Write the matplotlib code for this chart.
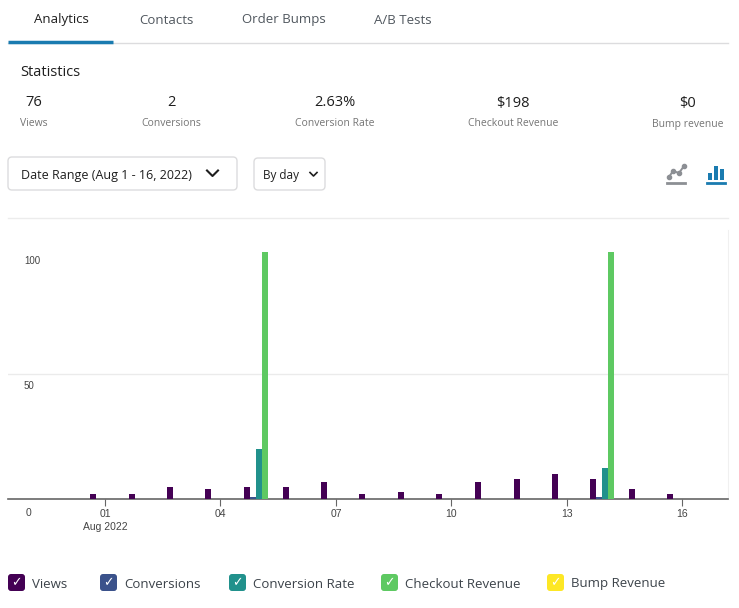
import numpy as np
import matplotlib.pyplot as plt
from matplotlib.patches import FancyBboxPatch, Rectangle
from matplotlib import transforms

# data (Aug 1 - 16, 2022)
days = list(range(1, 17))
views = [2, 2, 5, 4, 5, 5, 7, 2, 3, 2, 7, 8, 10, 8, 4, 2]
conversions = [0, 0, 0, 0, 1, 0, 0, 0, 0, 0, 0, 0, 0, 1, 0, 0]
conversion_rate = [0, 0, 0, 0, 20, 0, 0, 0, 0, 0, 0, 0, 0, 12.5, 0, 0]
checkout_revenue = [0, 0, 0, 0, 99, 0, 0, 0, 0, 0, 0, 0, 0, 99, 0, 0]
bump_revenue = [0] * 16

series_names = ["Views", "Conversions", "Conversion Rate", "Checkout Revenue", "Bump Revenue"]
series_colors = ["#440154", "#3b528b", "#21918c", "#5ec962", "#fde725"]

tabs = ["Analytics", "Contacts", "Order Bumps", "A/B Tests"]
stat_values = ["76", "2", "2.63%", "$198", "$0"]
stat_labels = ["Views", "Conversions", "Conversion Rate", "Checkout Revenue", "Bump revenue"]

x_ticks = [1, 4, 7, 10, 13, 16]
x_tick_labels = ["01\nAug 2022", "04", "07", "10", "13", "16"]

UI_FONT = ["Open Sans", "DejaVu Sans"]
CHART_FONT = ["Liberation Sans", "DejaVu Sans"]

W, H = 739, 608
fig = plt.figure(figsize=(W / 100, H / 100), dpi=100)
fig.patch.set_facecolor("white")

# overlay axes in pixel coordinates for the dashboard chrome
ui = fig.add_axes([0, 0, 1, 1])
ui.set_xlim(0, W)
ui.set_ylim(H, 0)
ui.axis("off")

# tabs
tab_x = [61, 166, 284, 403]
for i, (name, tx) in enumerate(zip(tabs, tab_x)):
    ui.text(tx, 20, name, ha="center", va="center", fontsize=9.5, family=UI_FONT,
            color="#1e1e1e" if i == 0 else "#50575e")
ui.plot([8, 728], [43, 43], color="#dcdcde", lw=1)
ui.plot([8, 113], [42, 42], color="#1a7bb0", lw=2.5, solid_capstyle="butt")

# statistics block
ui.text(20, 73, "Statistics", ha="left", va="center", fontsize=10.5, family=UI_FONT, color="#1e1e1e")
stat_x = [34, 171, 335, 513, 688]
for val, lab, sx in zip(stat_values, stat_labels, stat_x):
    ui.text(sx, 103, val, ha="center", va="center", fontsize=10.5, family=UI_FONT, color="#1e1e1e")
    ui.text(sx, 124, lab, ha="center", va="center", fontsize=7.5, family=UI_FONT, color="#757575")

# dropdowns
ui.add_patch(FancyBboxPatch((8, 157), 229, 33, boxstyle="round,pad=0,rounding_size=4",
                            facecolor="white", edgecolor="#dcdcde", lw=1))
ui.text(21, 175, "Date Range (Aug 1 - 16, 2022)", ha="left", va="center", fontsize=9,
        family=UI_FONT, color="#1e1e1e")
ui.plot([207, 212.5, 218], [170.5, 176, 170.5], color="#1e1e1e", lw=1.5)

ui.add_patch(FancyBboxPatch((254, 158), 71, 32, boxstyle="round,pad=0,rounding_size=4",
                            facecolor="white", edgecolor="#dcdcde", lw=1))
ui.text(263, 176, "By day", ha="left", va="center", fontsize=8.5, family=UI_FONT, color="#1e1e1e")
ui.plot([310, 313.5, 317], [172.5, 176, 172.5], color="#1e1e1e", lw=1.2)

# chart type icons
ui.plot([669, 673, 679, 684], [177, 171, 173, 166], color="#8c8f94", lw=1.4)
ui.plot([669, 673, 679, 684], [177, 171, 173, 166], "o", color="#8c8f94", ms=3)
ui.plot([667, 685], [183, 183], color="#8c8f94", lw=2)
for bx, top in zip([708, 714, 720], [173, 166, 169]):
    ui.add_patch(Rectangle((bx, top), 4, 180 - top, facecolor="#1a7bb0", edgecolor="none"))
ui.plot([707, 725], [183, 183], color="#1a7bb0", lw=2)

# chart separator
ui.plot([8, 728], [218, 218], color="#ececec", lw=1)

# legend (checkbox style)
legend_box_x = [8, 100, 229, 381, 547]
for name, col, lx in zip(series_names, series_colors, legend_box_x):
    ui.add_patch(FancyBboxPatch((lx, 574), 17, 17, boxstyle="round,pad=0,rounding_size=3",
                                facecolor=col, edgecolor="none"))
    ui.text(lx + 8.5, 582.5, "\u2713", ha="center", va="center", fontsize=9,
            family="DejaVu Sans", color="white")
    ui.text(lx + 24, 584, name, ha="left", va="center", fontsize=9.5,
            family=UI_FONT, color="#3c434a")

# bar chart
ax = fig.add_axes([8 / W, (H - 499) / H, 720 / W, (499 - 230) / H])
px_per_day = 38.5
ax.set_xlim(1 + (8 - 105) / px_per_day, 1 + (728 - 105) / px_per_day)
ax.set_ylim(0, (499 - 230) / 2.5)

bar_w = 6 / px_per_day
all_series = [views, conversions, conversion_rate, checkout_revenue, bump_revenue]
x = np.array(days, dtype=float)
for k, (vals, col) in enumerate(zip(all_series, series_colors)):
    ax.bar(x + (k - 2) * bar_w, vals, width=bar_w, color=col, zorder=3)

for s in ["top", "left"]:
    ax.spines[s].set_visible(False)
ax.spines["right"].set_color("#f0f0f0")
ax.spines["bottom"].set_color("#666666")
ax.spines["bottom"].set_linewidth(1.2)
ax.set_facecolor("none")

ax.set_yticks([])
ax.axhline(50, color="#ebebeb", lw=1, zorder=0)
off = transforms.offset_copy(ax.transData, fig=fig, x=0, y=-12, units="dots")
lab_tr = transforms.blended_transform_factory(ax.transAxes, off)
for v in [100, 50]:
    ax.text(16 / 720, v, str(v), transform=lab_tr, ha="left", va="center",
            fontsize=7, family=CHART_FONT, color="#444444")

ax.set_xticks(x_ticks)
ax.set_xticklabels(x_tick_labels, fontsize=7.5, family=CHART_FONT, color="#444444",
                   linespacing=1.35)
ax.tick_params(axis="x", length=5, color="#666666", pad=2)
for t in ax.get_xticklabels():
    t.set_verticalalignment("top")
zero_tr = transforms.offset_copy(
    transforms.blended_transform_factory(ax.transData, ax.transAxes),
    fig=fig, x=0, y=-9, units="dots")
ax.text(-1, 0, "0", transform=zero_tr, ha="center", va="top",
        fontsize=7.5, family=CHART_FONT, color="#444444")

fig.savefig("out.png", dpi=100, facecolor="white")
